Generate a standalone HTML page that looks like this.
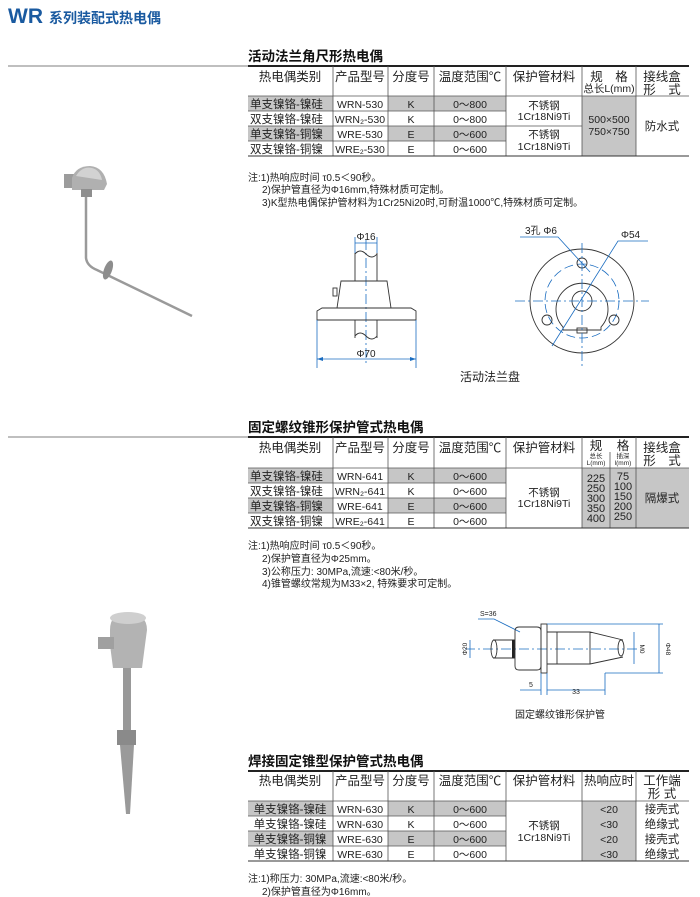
<!DOCTYPE html>
<html><head><meta charset="utf-8"><style>
html,body{margin:0;padding:0;background:#fff;}
svg{display:block;font-family:"Liberation Sans","Noto Sans CJK SC",sans-serif;}
.t{font-size:11.5px;fill:#222;}
.h{font-size:12.5px;fill:#222;}
.s{font-size:10.5px;fill:#222;}
.n{font-size:10px;fill:#222;}
.b{stroke:#1a6cc0;fill:none;stroke-width:0.8;}
.cl{stroke:#1a6cc0;fill:none;stroke-width:0.8;stroke-dasharray:10 3 2 3;}
.k{stroke:#333;fill:none;stroke-width:0.9;}
</style></head><body>
<svg width="700" height="897" viewBox="0 0 700 897" xmlns="http://www.w3.org/2000/svg">
<text x="8" y="23" style="font-size:21px;font-weight:bold;fill:#1a5aa0;font-family:'Liberation Sans',sans-serif">WR</text>
<text x="49" y="23" style="font-size:14px;font-weight:bold;fill:#1a5aa0">系列装配式热电偶</text>

<text x="248" y="61" style="font-size:13.5px;font-weight:bold;fill:#111">活动法兰角尺形热电偶</text>
<line x1="8" y1="66" x2="248" y2="66" stroke="#aaa" stroke-width="1.5"/>
<line x1="248" y1="66" x2="689" y2="66" stroke="#222" stroke-width="2"/>
<g fill="#c6c6c6">
<rect x="248" y="96" width="85" height="15"/><rect x="388" y="96" width="118" height="15"/>
<rect x="248" y="126" width="85" height="15"/><rect x="388" y="126" width="118" height="15"/>
<rect x="582" y="96" width="54" height="60"/>
</g>
<g stroke="#555" stroke-width="0.8">
<line x1="333" y1="66" x2="333" y2="156"/><line x1="388" y1="66" x2="388" y2="156"/>
<line x1="434" y1="66" x2="434" y2="156"/><line x1="506" y1="66" x2="506" y2="156"/>
<line x1="582" y1="66" x2="582" y2="156"/><line x1="636" y1="66" x2="636" y2="156"/>
<line x1="248" y1="96" x2="689" y2="96"/>
<line x1="248" y1="111" x2="506" y2="111"/><line x1="248" y1="126" x2="582" y2="126"/>
<line x1="248" y1="141" x2="506" y2="141"/>
</g>
<line x1="248" y1="156" x2="689" y2="156" stroke="#333" stroke-width="1"/>
<g class="h" text-anchor="middle">
<text x="290" y="81">热电偶类别</text><text x="360" y="81">产品型号</text><text x="411" y="81">分度号</text>
<text x="470" y="81">温度范围℃</text><text x="544" y="81">保护管材料</text>
<text x="609" y="81">规　格</text><text x="662" y="81">接线盒</text><text x="662" y="94">形　式</text>
</g>
<text x="609" y="92" class="s" text-anchor="middle">总长L(mm)</text>
<g class="t">
<text x="250" y="108">单支镍铬-镍硅</text><text x="250" y="123">双支镍铬-镍硅</text>
<text x="250" y="138">单支镍铬-铜镍</text><text x="250" y="153">双支镍铬-铜镍</text>
</g>
<g class="s" text-anchor="middle">
<text x="360" y="108">WRN-530</text><text x="360" y="123">WRN₂-530</text><text x="360" y="138">WRE-530</text><text x="360" y="153">WRE₂-530</text>
<text x="411" y="108">K</text><text x="411" y="123">K</text><text x="411" y="138">E</text><text x="411" y="153">E</text>
<text x="470" y="108">0～800</text><text x="470" y="123">0～800</text><text x="470" y="138">0～600</text><text x="470" y="153">0～600</text>
<text x="544" y="109">不锈钢</text><text x="544" y="120">1Cr18Ni9Ti</text>
<text x="544" y="138">不锈钢</text><text x="544" y="150">1Cr18Ni9Ti</text>
<text x="609" y="123">500×500</text><text x="609" y="135">750×750</text>
</g>
<text x="662" y="130" class="t" text-anchor="middle">防水式</text>
<g class="n">
<text x="248" y="181">注:1)热响应时间 τ0.5＜90秒。</text>
<text x="262" y="193">2)保护管直径为Φ16mm,特殊材质可定制。</text>
<text x="262" y="206">3)K型热电偶保护管材料为1Cr25Ni20时,可耐温1000℃,特殊材质可定制。</text>
</g>

<!-- photo 1 -->
<g>
<path d="M86 196 L86 258 Q87 266 97 270 L192 316" stroke="#9a9a9a" stroke-width="2.5" fill="none"/>
<ellipse cx="108" cy="270" rx="4" ry="10" fill="#8d8d8d" transform="rotate(20 108 270)"/>
<rect x="64" y="174" width="12" height="14" fill="#9c9c9c"/>
<path d="M72 190 L72 178 Q76 166 90 166 Q104 167 107 184 L104 190 Z" fill="#b0b0b0"/>
<path d="M76 176 Q82 166 92 168 Q100 170 102 180 Z" fill="#d2d2d2"/>
<rect x="81" y="189" width="11" height="8" fill="#8e8e8e"/>
</g>

<g>
<line x1="366" y1="240" x2="366" y2="366" class="cl"/>
<path d="M355 253 L355 281 M377 253 L377 281" class="k"/>
<path d="M355 254 Q360 248 366 254 Q372 260 377 254" class="k"/>
<path d="M341 281 L387 281 L391 308 L337 308 Z" class="k"/>
<rect x="333" y="288" width="4" height="8" class="k"/>
<path d="M322 308 L411 308 L416 311 L416 320 L317 320 L317 311 Z" class="k"/>
<path d="M355 320 L355 338 M377 320 L377 338" class="k"/>
<path d="M355 336 Q360 330 366 336 Q372 342 377 336" class="k"/>
<line x1="355" y1="237" x2="355" y2="253" class="b"/><line x1="377" y1="237" x2="377" y2="253" class="b"/>
<line x1="355" y1="243" x2="377" y2="243" class="b"/>
<text x="366" y="240" class="n" text-anchor="middle">Φ16</text>
<line x1="317" y1="320" x2="317" y2="368" class="b"/><line x1="416" y1="320" x2="416" y2="368" class="b"/>
<line x1="317" y1="359" x2="416" y2="359" class="b"/>
<path d="M317 359 l6 -2 v4 Z M416 359 l-6 -2 v4 Z" fill="#1a6cc0"/>
<text x="366" y="357" class="n" text-anchor="middle">Φ70</text>
</g>
<g>
<circle cx="582" cy="301" r="52" class="k"/>
<circle cx="582" cy="301" r="37" class="b" stroke-dasharray="9 4"/>
<path d="M563 327 A26 26 0 1 1 601 327 L601 330 L563 330 Z" class="k"/>
<rect x="577" y="328" width="10" height="5" class="k"/>
<circle cx="582" cy="301" r="10" class="k"/>
<circle cx="582" cy="263" r="5" class="k"/><circle cx="547" cy="320" r="5" class="k"/><circle cx="614" cy="320" r="5" class="k"/>
<line x1="515" y1="301" x2="649" y2="301" class="cl"/>
<line x1="582" y1="243" x2="582" y2="366" class="cl"/>
<text x="525" y="234" class="n">3孔 Φ6</text>
<path d="M520 237 L558 237 L590 272" class="b"/>
<text x="621" y="238" class="n">Φ54</text>
<path d="M648 241 L618 241 L552 346" class="b"/>
</g>
<text x="490" y="381" style="font-size:12px;fill:#222" text-anchor="middle">活动法兰盘</text>

<text x="248" y="432" style="font-size:13.5px;font-weight:bold;fill:#111">固定螺纹锥形保护管式热电偶</text>
<line x1="8" y1="437" x2="248" y2="437" stroke="#aaa" stroke-width="1.5"/>
<line x1="248" y1="437" x2="689" y2="437" stroke="#222" stroke-width="2"/>
<g fill="#c6c6c6">
<rect x="248" y="468" width="85" height="15"/><rect x="388" y="468" width="118" height="15"/>
<rect x="248" y="498" width="85" height="15"/><rect x="388" y="498" width="118" height="15"/>
<rect x="582" y="468" width="107" height="60"/>
</g>
<g stroke="#555" stroke-width="0.8">
<line x1="333" y1="437" x2="333" y2="528"/><line x1="388" y1="437" x2="388" y2="528"/>
<line x1="434" y1="437" x2="434" y2="528"/><line x1="506" y1="437" x2="506" y2="528"/>
<line x1="582" y1="437" x2="582" y2="528"/><line x1="636" y1="437" x2="636" y2="528"/>
<line x1="610" y1="452" x2="610" y2="528"/>
<line x1="248" y1="468" x2="689" y2="468"/>
<line x1="248" y1="483" x2="506" y2="483"/><line x1="248" y1="498" x2="506" y2="498"/><line x1="248" y1="513" x2="506" y2="513"/>
</g>
<line x1="248" y1="528" x2="689" y2="528" stroke="#333" stroke-width="1"/>
<g class="h" text-anchor="middle">
<text x="290" y="452">热电偶类别</text><text x="360" y="452">产品型号</text><text x="411" y="452">分度号</text>
<text x="470" y="452">温度范围℃</text><text x="544" y="452">保护管材料</text>
<text x="596" y="450">规</text><text x="623" y="450">格</text><text x="662" y="452">接线盒</text><text x="662" y="465">形　式</text>
</g>
<g style="font-size:6.5px;fill:#222" text-anchor="middle">
<text x="596" y="458">总长</text><text x="596" y="465">L(mm)</text><text x="623" y="458">插深</text><text x="623" y="465">l(mm)</text>
</g>
<g class="t">
<text x="250" y="480">单支镍铬-镍硅</text><text x="250" y="495">双支镍铬-镍硅</text>
<text x="250" y="510">单支镍铬-铜镍</text><text x="250" y="525">双支镍铬-铜镍</text>
</g>
<g class="s" text-anchor="middle">
<text x="360" y="480">WRN-641</text><text x="360" y="495">WRN₂-641</text><text x="360" y="510">WRE-641</text><text x="360" y="525">WRE₂-641</text>
<text x="411" y="480">K</text><text x="411" y="495">K</text><text x="411" y="510">E</text><text x="411" y="525">E</text>
<text x="470" y="480">0～600</text><text x="470" y="495">0～600</text><text x="470" y="510">0～600</text><text x="470" y="525">0～600</text>
<text x="544" y="496">不锈钢</text><text x="544" y="507">1Cr18Ni9Ti</text>
</g>
<g style="font-size:11px;fill:#222" text-anchor="middle">
<text x="596" y="482">225</text><text x="596" y="492">250</text><text x="596" y="502">300</text><text x="596" y="512">350</text><text x="596" y="522">400</text>
<text x="623" y="480">75</text><text x="623" y="490">100</text><text x="623" y="500">150</text><text x="623" y="510">200</text><text x="623" y="520">250</text>
</g>
<text x="662" y="502" class="t" text-anchor="middle">隔爆式</text>
<g class="n">
<text x="248" y="549">注:1)热响应时间 τ0.5＜90秒。</text>
<text x="262" y="562">2)保护管直径为Φ25mm。</text>
<text x="262" y="575">3)公称压力: 30MPa,流速:&lt;80米/秒。</text>
<text x="262" y="587">4)锥管螺纹常规为M33×2, 特殊要求可定制。</text>
</g>

<g>
<rect x="123" y="665" width="8" height="66" fill="#999"/>
<rect x="117" y="730" width="19" height="15" fill="#8a8a8a"/>
<path d="M120 745 L134 745 L130 814 L126 814 Z" fill="#9a9a9a"/>
<path d="M110 630 Q110 613 127 613 Q147 613 147 630 L145 645 L142 668 L113 668 L110 645 Z" fill="#b3b3b3"/>
<rect x="98" y="637" width="16" height="12" fill="#a0a0a0"/>
<ellipse cx="128" cy="618" rx="18" ry="6" fill="#cfcfcf"/>
</g>

<g>
<line x1="465" y1="649" x2="640" y2="649" class="cl"/>
<text x="480" y="616" style="font-size:7px;fill:#222">S=36</text>
<path d="M478 619 L494 619 L520 632" class="b"/>
<path d="M493 640 L515 640 M493 658 L515 658" class="k"/>
<ellipse cx="494" cy="649" rx="3" ry="9" class="k"/>
<rect x="512" y="640" width="3" height="18" fill="#222"/>
<path d="M519 627 L537 627 Q541 627 541 631 L541 666 Q541 670 537 670 L519 670 Q515 670 515 666 L515 631 Q515 627 519 627 Z" class="k"/>
<rect x="541" y="624" width="6" height="49" class="k"/>
<path d="M547 632 L590 632 L623 640 M547 664 L590 664 L623 657 M557 632 L557 664 M590 632 L590 664" class="k"/>
<ellipse cx="621" cy="648" rx="3" ry="8" class="k"/>
<line x1="470" y1="640" x2="470" y2="658" class="b"/>
<text x="467" y="649" style="font-size:6.5px;fill:#222" transform="rotate(-90 467 649)" text-anchor="middle">Φ20</text>
<line x1="634" y1="632" x2="634" y2="664" class="b"/>
<text x="640" y="649" style="font-size:6.5px;fill:#222" transform="rotate(90 640 649)" text-anchor="middle">M0</text>
<path d="M547 624 L663 624 M605 673 L663 673 M659 624 L659 673" class="b"/>
<text x="666" y="649" style="font-size:6.5px;fill:#222" transform="rotate(90 666 649)" text-anchor="middle">Φ48</text>
<path d="M541 673 L541 695 M547 673 L547 695 M605 673 L605 695 M520 690 L541 690 M547 690 L605 690" class="b"/>
<text x="529" y="687" style="font-size:7px;fill:#222">5</text>
<text x="576" y="694" style="font-size:7px;fill:#222" text-anchor="middle">33</text>
</g>
<text x="560" y="718" style="font-size:10px;fill:#222" text-anchor="middle">固定螺纹锥形保护管</text>

<text x="248" y="766" style="font-size:13.5px;font-weight:bold;fill:#111">焊接固定锥型保护管式热电偶</text>
<line x1="248" y1="771" x2="689" y2="771" stroke="#222" stroke-width="2"/>
<g fill="#c6c6c6">
<rect x="248" y="801" width="85" height="15"/><rect x="388" y="801" width="118" height="15"/>
<rect x="248" y="831" width="85" height="15"/><rect x="388" y="831" width="118" height="15"/>
<rect x="582" y="801" width="54" height="60"/>
</g>
<g stroke="#555" stroke-width="0.8">
<line x1="333" y1="771" x2="333" y2="861"/><line x1="388" y1="771" x2="388" y2="861"/>
<line x1="434" y1="771" x2="434" y2="861"/><line x1="506" y1="771" x2="506" y2="861"/>
<line x1="582" y1="771" x2="582" y2="861"/><line x1="636" y1="771" x2="636" y2="861"/>
<line x1="248" y1="801" x2="689" y2="801"/>
<line x1="248" y1="816" x2="506" y2="816"/><line x1="248" y1="831" x2="506" y2="831"/><line x1="248" y1="846" x2="506" y2="846"/>
</g>
<line x1="248" y1="861" x2="689" y2="861" stroke="#333" stroke-width="1"/>
<g class="h" text-anchor="middle">
<text x="290" y="785">热电偶类别</text><text x="360" y="785">产品型号</text><text x="411" y="785">分度号</text>
<text x="470" y="785">温度范围℃</text><text x="544" y="785">保护管材料</text>
<text x="609" y="785">热响应时</text><text x="662" y="785">工作端</text><text x="662" y="798">形 式</text>
</g>
<g class="t" text-anchor="middle">
<text x="290" y="813">单支镍铬-镍硅</text><text x="290" y="828">单支镍铬-镍硅</text>
<text x="290" y="843">单支镍铬-铜镍</text><text x="290" y="858">单支镍铬-铜镍</text>
<text x="662" y="813">接壳式</text><text x="662" y="828">绝缘式</text><text x="662" y="843">接壳式</text><text x="662" y="858">绝缘式</text>
</g>
<g class="s" text-anchor="middle">
<text x="360" y="813">WRN-630</text><text x="360" y="828">WRN-630</text><text x="360" y="843">WRE-630</text><text x="360" y="858">WRE-630</text>
<text x="411" y="813">K</text><text x="411" y="828">K</text><text x="411" y="843">E</text><text x="411" y="858">E</text>
<text x="470" y="813">0～600</text><text x="470" y="828">0～600</text><text x="470" y="843">0～600</text><text x="470" y="858">0～600</text>
<text x="544" y="829">不锈钢</text><text x="544" y="841">1Cr18Ni9Ti</text>
<text x="609" y="813">&lt;20</text><text x="609" y="828">&lt;30</text><text x="609" y="843">&lt;20</text><text x="609" y="858">&lt;30</text>
</g>
<g class="n">
<text x="248" y="882">注:1)称压力: 30MPa,流速:&lt;80米/秒。</text>
<text x="262" y="895">2)保护管直径为Φ16mm。</text>
</g>
</svg>
</body></html>
